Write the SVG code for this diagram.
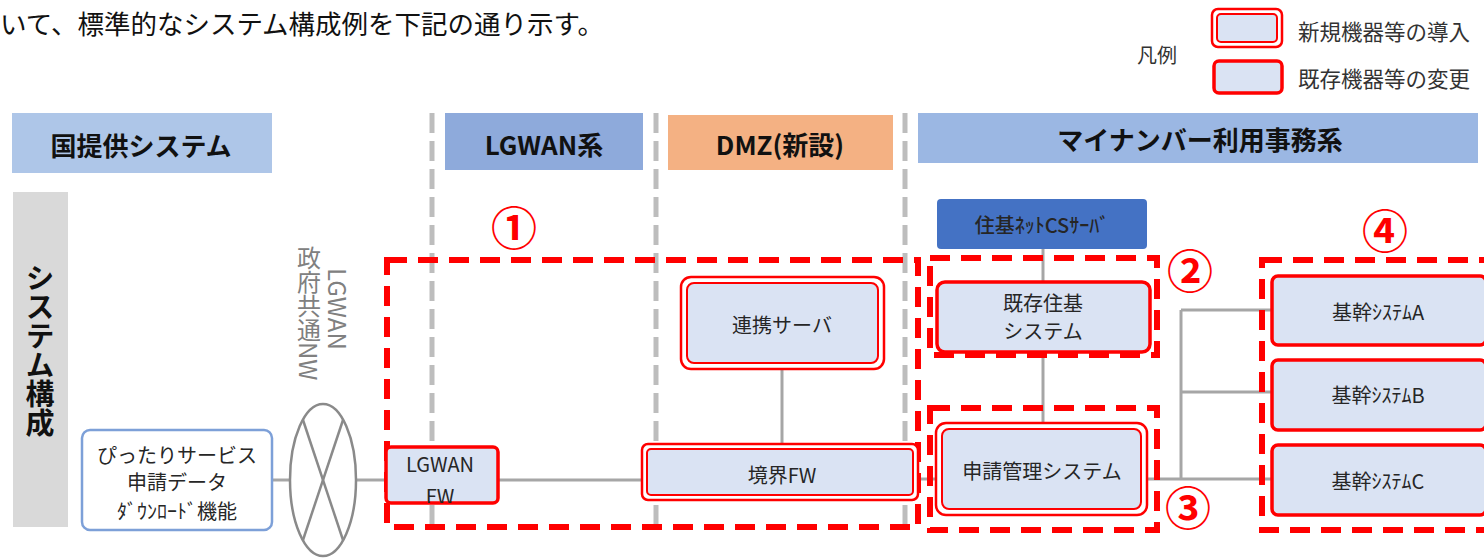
<svg xmlns="http://www.w3.org/2000/svg" width="1484" height="558" viewBox="0 0 1484 558">
<style>
text{font-family:"Noto Sans CJK JP","Noto Sans",sans-serif;}
.t{fill:#262626;font-size:20px;text-anchor:middle;dominant-baseline:central}
.h{fill:#111;font-size:26px;font-weight:bold;text-anchor:middle;dominant-baseline:central}
.zone{stroke:#ff0000;stroke-width:6;fill:none;stroke-dasharray:20 11}
.sep{stroke:#bdbdbd;stroke-width:5;stroke-dasharray:20 8;fill:none}
.o{fill:#fff;stroke:#ff0000;stroke-width:2.5}
.i{fill:#dae3f3;stroke:#ff0000;stroke-width:2}
.s{fill:#dae3f3;stroke:#ff0000;stroke-width:3.5}
.c{stroke:#a6a6a6;stroke-width:3;fill:none}
.num{fill:#ff0000;font-size:46px;font-weight:bold;text-anchor:middle;dominant-baseline:central}
.v{fill:#808080;font-size:24px;writing-mode:vertical-rl}
</style>
<defs>
<clipPath id="fwclip"><rect x="386" y="447" width="112" height="56"/></clipPath>
</defs>
<rect width="1484" height="558" fill="#fff"/>

<text x="0" y="34" font-size="26.5" fill="#111">いて、標準的なシステム構成例を下記の通り示す。</text>

<g id="legend">
<text x="1157" y="54" font-size="20" fill="#333" text-anchor="middle" dominant-baseline="central">凡例</text>
<rect class="o" x="1212" y="9" width="70" height="38" rx="6"/>
<rect class="i" x="1217" y="14" width="60" height="28" rx="4"/>
<rect class="s" x="1214" y="61" width="68" height="32" rx="5"/>
<text x="1298" y="30" font-size="21.5" fill="#333" dominant-baseline="central">新規機器等の導入</text>
<text x="1298" y="77" font-size="21.5" fill="#333" dominant-baseline="central">既存機器等の変更</text>
</g>

<g id="headers">
<rect x="12" y="113" width="260" height="60" fill="#aec6e8"/>
<text class="h" x="141" y="144">国提供システム</text>
<rect x="445" y="113" width="198" height="57" fill="#8eaadb"/>
<text class="h" x="544" y="143">LGWAN系</text>
<rect x="668" y="115" width="225" height="55" fill="#f4b183"/>
<text class="h" x="780" y="143">DMZ(新設)</text>
<rect x="918" y="113" width="560" height="50" fill="#9bb7e3"/>
<text class="h" x="1200" y="138">マイナンバー利用事務系</text>
<rect x="13" y="192" width="55" height="335" fill="#d9d9d9"/>
<text x="40" y="263" font-size="29" font-weight="bold" fill="#111" style="writing-mode:vertical-rl">システム構成</text>
</g>

<g id="separators">
<line class="sep" x1="432" y1="113" x2="432" y2="530"/>
<line class="sep" x1="656" y1="113" x2="656" y2="530"/>
<line class="sep" x1="905" y1="113" x2="905" y2="530"/>
</g>

<g id="connectors">
<line class="c" x1="272" y1="480" x2="290" y2="480"/>
<line class="c" x1="356" y1="480" x2="386" y2="480"/>
<line class="c" x1="498" y1="480" x2="642" y2="480"/>
<line class="c" x1="918" y1="479" x2="936" y2="479"/>
<line class="c" x1="782" y1="369" x2="782" y2="444"/>
<line class="c" x1="1043" y1="249" x2="1043" y2="282"/>
<line class="c" x1="1043" y1="352" x2="1043" y2="423"/>
<line class="c" x1="1147" y1="479" x2="1272" y2="479"/>
<line class="c" x1="1181" y1="310" x2="1181" y2="479"/>
<line class="c" x1="1181" y1="310" x2="1272" y2="310"/>
<line class="c" x1="1181" y1="392" x2="1272" y2="392"/>
</g>

<g id="zones">
<rect class="zone" x="387" y="260" width="531" height="267"/>
<rect class="zone" x="930" y="258" width="227" height="97"/>
<rect class="zone" x="930" y="408" width="227" height="122"/>
<rect class="zone" x="1262" y="260" width="230" height="270"/>
<text class="num" x="514" y="225">①</text>
<text class="num" x="1190" y="268">②</text>
<text class="num" x="1188" y="505">③</text>
<text class="num" x="1385" y="228">④</text>
</g>

<g id="pittari">
<rect x="82" y="430" width="190" height="100" rx="8" fill="#fff" stroke="#7da0d8" stroke-width="2.5"/>
<text class="t" x="177" y="454" font-size="17">ぴったりサービス</text>
<text class="t" x="177" y="481" font-size="17">申請データ</text>
<text class="t" x="177" y="510" font-size="18">ﾀﾞｳﾝﾛｰﾄﾞ機能</text>
</g>

<g id="lgwan-nw">
<ellipse cx="323" cy="480" rx="33" ry="76" fill="none" stroke="#8a8a8a" stroke-width="2.5"/>
<line x1="303" y1="420" x2="343" y2="540" stroke="#8a8a8a" stroke-width="2.5"/>
<line x1="343" y1="420" x2="303" y2="540" stroke="#8a8a8a" stroke-width="2.5"/>
<text class="v" x="338" y="268">LGWAN</text>
<text class="v" x="309" y="246">政府共通NW</text>
</g>

<g id="lgwan-fw">
<rect class="s" x="386" y="447" width="112" height="56" rx="5"/>
<g clip-path="url(#fwclip)">
<text class="t" x="440" y="463" font-size="21">LGWAN</text>
<text class="t" x="440" y="495" font-size="21">FW</text>
</g>
</g>

<g id="renkei">
<rect class="o" x="681" y="277" width="203" height="92" rx="10"/>
<rect class="i" x="687" y="283" width="191" height="80" rx="7"/>
<text class="t" x="782" y="324" font-size="21">連携サーバ</text>
</g>

<g id="kyokai-fw">
<rect class="o" x="642" y="444" width="276" height="56" rx="6"/>
<rect class="i" x="647" y="449" width="266" height="46" rx="4"/>
<text class="t" x="782" y="474" font-size="22">境界FW</text>
</g>

<g id="juki-cs">
<rect x="937" y="199" width="210" height="50" rx="4" fill="#4472c4"/>
<text class="t" x="1042" y="224" font-size="23" font-weight="500" fill="#111">住基ﾈｯﾄCSｻｰﾊﾞ</text>
</g>

<g id="kizon-juki">
<rect class="s" x="937" y="282" width="213" height="70" rx="8"/>
<text class="t" x="1043" y="302">既存住基</text>
<text class="t" x="1043" y="330">システム</text>
</g>

<g id="shinsei">
<rect class="o" x="936" y="423" width="211" height="92" rx="10"/>
<rect class="i" x="942" y="429" width="199" height="80" rx="7"/>
<text class="t" x="1042" y="470">申請管理システム</text>
</g>

<g id="kikan-a">
<rect class="s" x="1272" y="276" width="214" height="69" rx="6"/>
<text class="t" x="1378" y="311" font-size="22">基幹ｼｽﾃﾑA</text>
</g>
<g id="kikan-b">
<rect class="s" x="1272" y="360" width="214" height="70" rx="6"/>
<text class="t" x="1378" y="394" font-size="22">基幹ｼｽﾃﾑB</text>
</g>
<g id="kikan-c">
<rect class="s" x="1272" y="445" width="214" height="70" rx="6"/>
<text class="t" x="1378" y="480" font-size="22">基幹ｼｽﾃﾑC</text>
</g>
</svg>
